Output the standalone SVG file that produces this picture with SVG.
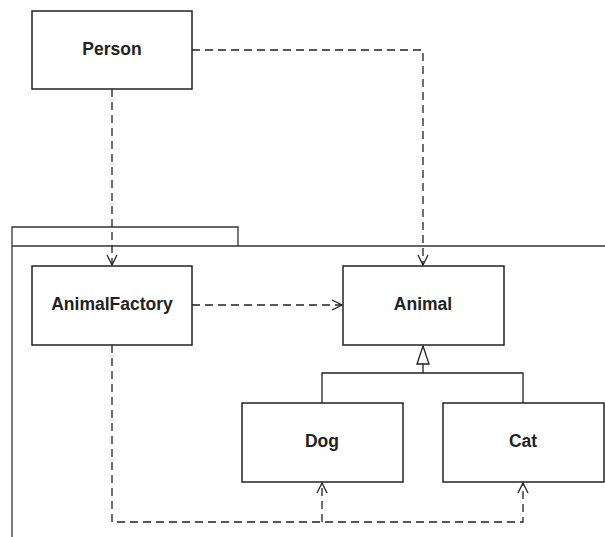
<svg xmlns="http://www.w3.org/2000/svg" width="605" height="537" viewBox="0 0 605 537">
<defs>
<style>
.box{fill:#fff;stroke:#222;stroke-width:1.5}
.pkg{fill:none;stroke:#333;stroke-width:1.3}
.lbl{font-family:"Liberation Sans",Arial,sans-serif;font-weight:bold;font-size:17.5px;fill:#222;text-anchor:middle;dominant-baseline:central}
.dep{fill:none;stroke:#222;stroke-width:1.3;stroke-dasharray:8,5}
.gen{fill:none;stroke:#222;stroke-width:1.3}
</style>
<marker id="open" viewBox="0 0 12 12" refX="11" refY="6" markerWidth="12" markerHeight="12" markerUnits="userSpaceOnUse" orient="auto">
<path d="M1,1 L11,6 L1,11" fill="none" stroke="#222" stroke-width="1.3"/>
</marker>
<marker id="tri" viewBox="0 0 20 14" refX="19" refY="7" markerWidth="20" markerHeight="14" markerUnits="userSpaceOnUse" orient="auto">
<path d="M1,1 L19,7 L1,13 Z" fill="#fff" stroke="#222" stroke-width="1.3"/>
</marker>
</defs>
<g id="package">
<path class="pkg" d="M12,537 V227 H238 V246"/>
<path class="pkg" d="M12,246 H605"/>
</g>
<g id="connectors">
<path class="dep" d="M112,89 V265" marker-end="url(#open)"/>
<path class="dep" d="M192,50 H423 V265" marker-end="url(#open)"/>
<path class="dep" d="M192,305 H342" marker-end="url(#open)"/>
<path class="dep" d="M112,345 V522 H523 V483" marker-end="url(#open)"/>
<path class="dep" d="M322,522 V483" marker-end="url(#open)"/>
<path class="gen" d="M322,403 V373 H523 V403"/>
<path class="gen" d="M423,373 V346" marker-end="url(#tri)"/>
</g>
<g id="Person">
<rect class="box" x="32" y="11" width="160" height="78"/>
<text class="lbl" x="112" y="49">Person</text>
</g>
<g id="AnimalFactory">
<rect class="box" x="32" y="266" width="160" height="79"/>
<text class="lbl" x="112" y="304">AnimalFactory</text>
</g>
<g id="Animal">
<rect class="box" x="343" y="266" width="161" height="79"/>
<text class="lbl" x="423" y="304">Animal</text>
</g>
<g id="Dog">
<rect class="box" x="242" y="403" width="161" height="79"/>
<text class="lbl" x="322" y="441">Dog</text>
</g>
<g id="Cat">
<rect class="box" x="443" y="403" width="161" height="79"/>
<text class="lbl" x="523" y="441">Cat</text>
</g>
</svg>
